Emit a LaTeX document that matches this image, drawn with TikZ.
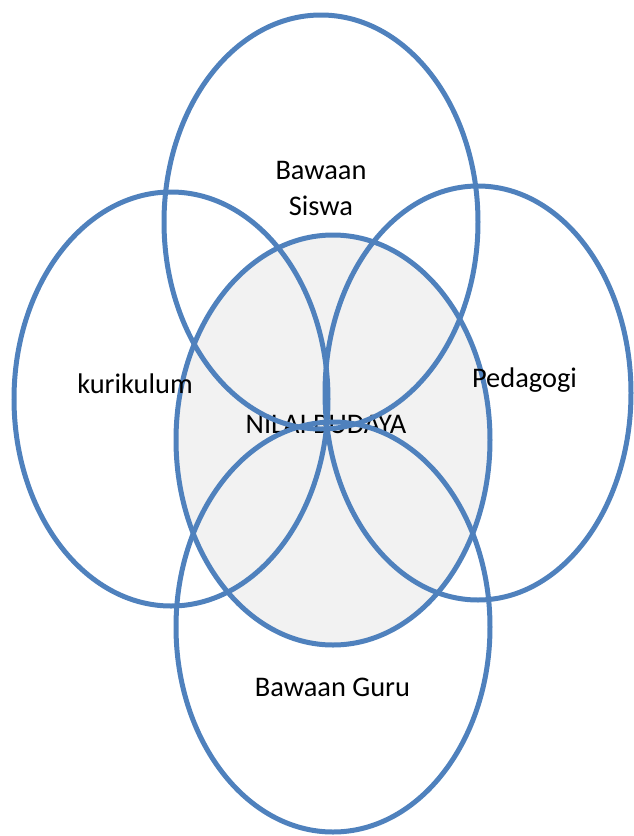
\documentclass[tikz,border=0pt]{standalone}
\usepackage{fontspec}
\setmainfont{Carlito}
\usepackage{tikz}

\begin{document}
\begin{tikzpicture}[x=0.75pt,y=0.75pt,yscale=-1,xscale=1,
  ring/.style={draw={rgb,255:red,79;green,129;blue,189},line width=3.75pt},
  lbl/.style={anchor=base,inner sep=0pt,font=\fontsize{21.3}{27}\selectfont,align=center}]
\useasboundingbox (0,0) rectangle (633,836);
%core
\fill [fill={rgb,255:red,242;green,242;blue,242}] (333,440) ellipse (157 and 205);
\node[lbl] (nilai) at (326,433) {NILAI BUDAYA};
%rings
\draw [ring] (333,440) ellipse (157 and 205);
\draw [ring] (321,222) ellipse (157 and 207);
\draw [ring] (171,399) ellipse (157 and 207);
\draw [ring] (478,393) ellipse (153 and 207);
\draw [ring] (333,627) ellipse (157 and 205);
%labels
\node[lbl] (siswa) at (321,215) {Bawaan\\Siswa};
\node[lbl] (kurikulum) at (135,393) {kurikulum};
\node[lbl] (pedagogi) at (524.5,387) {Pedagogi};
\node[lbl] (guru) at (332.5,696) {Bawaan Guru};
\end{tikzpicture}
\end{document}
